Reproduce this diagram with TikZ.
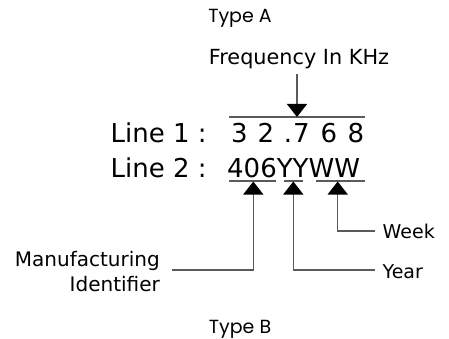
\documentclass[tikz,border=0pt]{standalone}
\usepackage{fontspec}
\setmainfont{DejaVu Sans}
\newfontfamily\typefont{Poppins}
\usetikzlibrary{arrows.meta}
\definecolor{linegray}{RGB}{90,90,90}
\tikzset{
  conn/.style={draw=linegray, line width=1.3pt, -{Triangle[width=20pt,length=13pt,black]}},
  rule/.style={draw=linegray, line width=1.3pt},
  lbl/.style={inner sep=0pt, font=\fontsize{19}{25}\selectfont},
  big/.style={inner sep=0pt, font=\fontsize{26}{30}\selectfont},
  ttl/.style={inner sep=0pt, font=\fontsize{19}{22}\typefont\selectfont},
}
\begin{document}
\begin{tikzpicture}[x=1pt,y=-1pt]
\useasboundingbox (0,0) rectangle (449,339);
% titles
\node[ttl, anchor=base] (typeA) at (240,22.7) {Type A};
\node[ttl, anchor=base] (typeB) at (240,333) {Type B};
% frequency label
\node[lbl, anchor=base, font=\fontsize{20.8}{25}\selectfont] (freq) at (299,65) {Frequency In KHz};
% line 1
\node[big, anchor=base west] (l1) at (110.5,142.5) {Line 1 :};
\node[big, anchor=base] (d1) at (239.5,142.5) {3};
\node[big, anchor=base] (d2) at (266,142.5) {2};
\node[big, anchor=base] (d3) at (288,142.5) {.};
\node[big, anchor=base] (d4) at (301.5,142.5) {7};
\node[big, anchor=base] (d5) at (329,142.5) {6};
\node[big, anchor=base] (d6) at (356,142.5) {8};
% line 2
\node[big, anchor=base west] (l2) at (110.5,177) {Line 2 :};
\node[big, anchor=base west] (code) at (227,177) {406YYWW};
% rules
\coordinate (ov1) at (229,117);
\coordinate (ov2) at (365,117);
\draw[rule] (ov1) -- (ov2);
\coordinate (ua1) at (229,181);
\coordinate (ua2) at (276,181);
\coordinate (ub1) at (284,181);
\coordinate (ub2) at (303,181);
\coordinate (uc1) at (316,181);
\coordinate (uc2) at (365,181);
\draw[rule] (ua1) -- (ua2);
\draw[rule] (ub1) -- (ub2);
\draw[rule] (uc1) -- (uc2);
% frequency arrow
\coordinate (ftip) at (297,117);
\draw[conn] (freq.south -| ftip) ++(0,4) -- (ftip);
% labels
\node[lbl, anchor=base west] (week) at (382.5,238.5) {Week};
\node[lbl, anchor=base west] (year) at (382.5,278.5) {Year};
\node[lbl, anchor=base east, align=right, font=\fontsize{20}{25}\selectfont] (mfg) at (160,291.7) {Manufacturing\\Identifier};
% connectors
\coordinate (t1) at (253.3,181.5);
\coordinate (t2) at (293.3,181.5);
\coordinate (t3) at (337.7,181.5);
\coordinate (m1) at (171.7,270);
\coordinate (y1) at (375,270);
\coordinate (w1) at (375,231);
\draw[conn] (m1) -| (t1);
\draw[conn] (y1) -| (t2);
\draw[conn] (w1) -| (t3);
\end{tikzpicture}
\end{document}
